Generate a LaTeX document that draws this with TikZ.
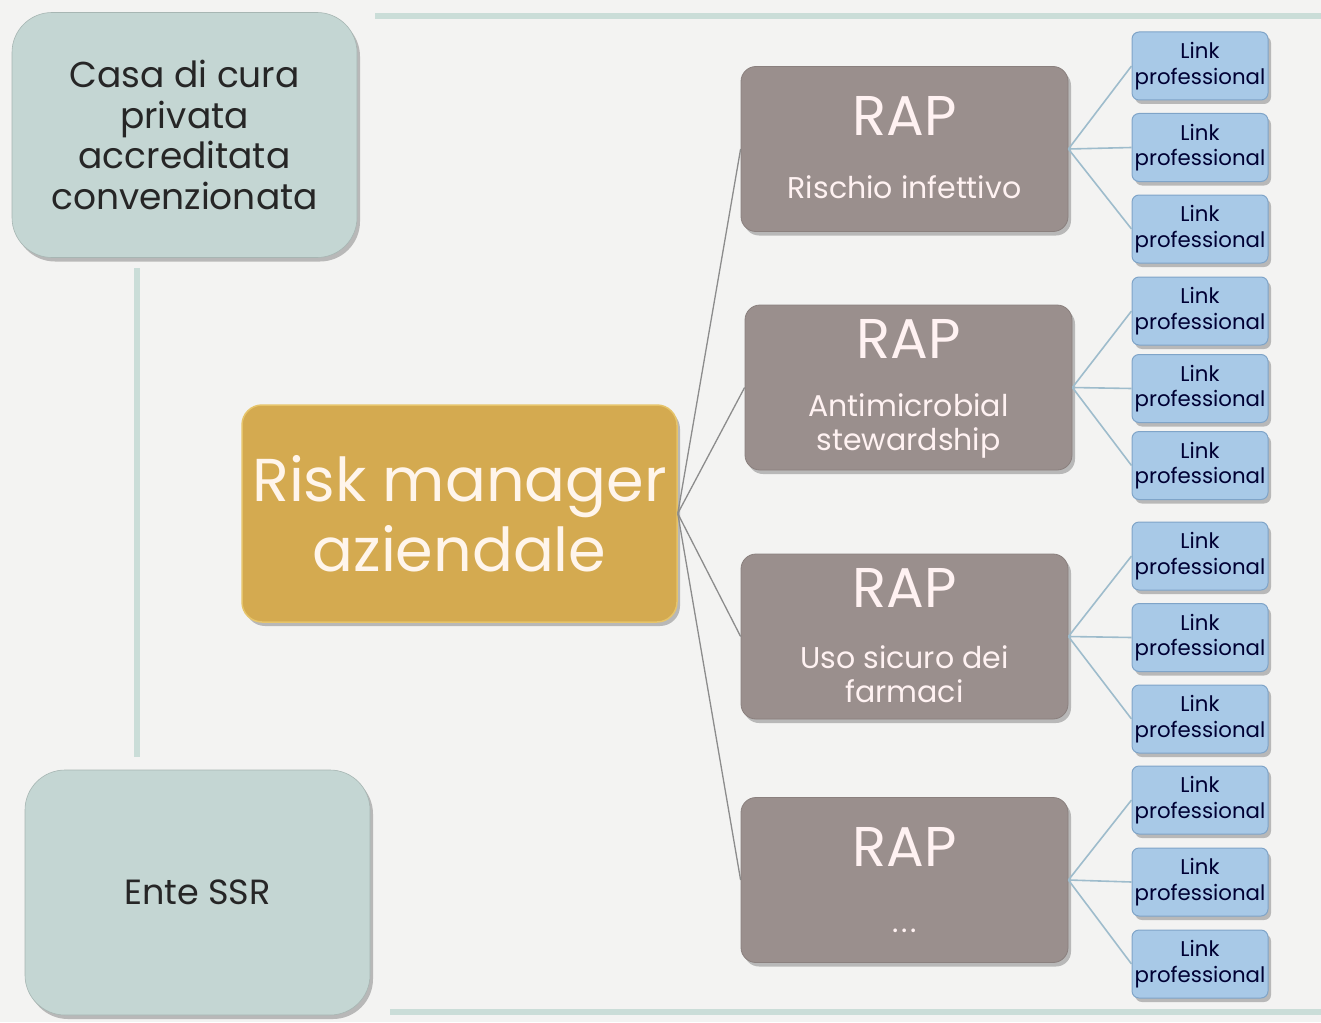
\documentclass[tikz,border=0pt]{standalone}
\usepackage{fontspec}
\setmainfont{Poppins}
\usetikzlibrary{shadows,calc}
\definecolor{bgc}{HTML}{F3F3F2}
\definecolor{tealbox}{HTML}{C4D6D3}
\definecolor{tealline}{HTML}{CADDD8}
\definecolor{goldc}{HTML}{D4AA50}
\definecolor{goldb}{HTML}{E6C46A}
\definecolor{rapc}{HTML}{9A8F8D}
\definecolor{rapb}{HTML}{8A807E}
\definecolor{linkc}{HTML}{A8C9E7}
\definecolor{linkb}{HTML}{7FA4C8}
\definecolor{rline}{HTML}{8C8C8C}
\definecolor{lline}{HTML}{9EBCCC}
\begin{document}
\begin{tikzpicture}[x=1pt,y=-1pt,
  shadowed/.style={drop shadow={shadow xshift=3pt,shadow yshift=-4pt,opacity=0.35,fill=black!70}},
  sidebox/.style={shadowed,rectangle,rounded corners=40pt,fill=tealbox,draw=tealbox!85!black,line width=0.6pt,
    minimum width=345pt,minimum height=245pt,align=center,text=black!85,
    font=\fontsize{36}{40.5}\selectfont,inner sep=0pt},
  riskbox/.style={shadowed,rectangle,rounded corners=20pt,fill=goldc,draw=goldb,line width=1.5pt,
    minimum width=435pt,minimum height=217pt,align=center,text=white!92!orange,
    font=\fontsize{60.5}{70}\selectfont,inner sep=0pt},
  rapbox/.style={shadowed,rectangle,rounded corners=15pt,fill=rapc,draw=rapb,line width=0.8pt,
    minimum width=327pt,minimum height=165pt,inner sep=0pt},
  raptitle/.style={text=white!95!red,font=\fontsize{56}{60}\selectfont,inner sep=0pt},
  rapsub/.style={text=white!95!red,font=\fontsize{30}{34}\selectfont,align=center,inner sep=0pt},
  linkbox/.style={shadowed,rectangle,rounded corners=7pt,fill=linkc,draw=linkb,line width=1pt,
    minimum width=136pt,minimum height=68pt,align=center,text=black!80!blue,
    font=\fontsize{21.3}{25.5}\selectfont,inner sep=0pt},
  rl/.style={draw=rline,line width=1.3pt},
  ll/.style={draw=lline,line width=1.6pt}
]
\useasboundingbox (0,0) rectangle (1321,1022);
\fill[bgc] (0,0) rectangle (1321,1022);
\draw[tealline,line width=6pt] (375,16) -- (1321,16);
\draw[tealline,line width=6pt] (390,1012) -- (1321,1012);

\node[sidebox] (casa) at (184.5,135) {Casa di cura\\privata\\accreditata\\convenzionata};
\node[sidebox,font=\fontsize{35}{40}\selectfont] (ente) at (197.5,892.5) {Ente SSR};
\coordinate (vtop) at (137,268);
\coordinate (vbot) at (137,757);
\draw[tealline,line width=6pt] (vtop) -- (vbot);

\node[riskbox] (risk) at (459.5,513.5) {Risk manager\\aziendale};

\node[rapbox] (rap1) at (904.5,149) {};
\node[rapbox] (rap2) at (908.5,387.5) {};
\node[rapbox] (rap3) at (904.5,636.5) {};
\node[rapbox] (rap4) at (904.5,880) {};

\node[raptitle] (t1) at ($(rap1.north)+(0,50)$) {RAP};
\node[raptitle] (t2) at ($(rap2.north)+(0,34)$) {RAP};
\node[raptitle] (t3) at ($(rap3.north)+(0,34)$) {RAP};
\node[raptitle] (t4) at ($(rap4.north)+(0,50)$) {RAP};
\node[rapsub] (s1) at ($(rap1.north)+(0,121)$) {Rischio infettivo};
\node[rapsub] (s2) at ($(rap2.north)+(0,121)$) {Antimicrobial\\stewardship};
\node[rapsub] (s3) at ($(rap3.north)+(0,121)$) {Uso sicuro dei\\farmaci};
\node[rapsub] (s4) at ($(rap4.north)+(0,134)$) {.\hspace{3pt}.\hspace{3pt}.};

\foreach \i/\y in {1/66,2/147.5,3/229,4/311,5/388.5,6/465.5,7/556,8/637.5,9/719,10/800,11/882,12/964}{
  \node[linkbox] (l\i) at (1200,\y) {Link\\professional};
}

\foreach \r in {1,2,3,4}{
  \draw[rl] (risk.east) -- (rap\r.west);
}
\foreach \r/\a/\b/\c in {1/1/2/3,2/4/5/6,3/7/8/9,4/10/11/12}{
  \draw[ll] (rap\r.east) -- (l\a.west);
  \draw[ll] (rap\r.east) -- (l\b.west);
  \draw[ll] (rap\r.east) -- (l\c.west);
}
\end{tikzpicture}
\end{document}
